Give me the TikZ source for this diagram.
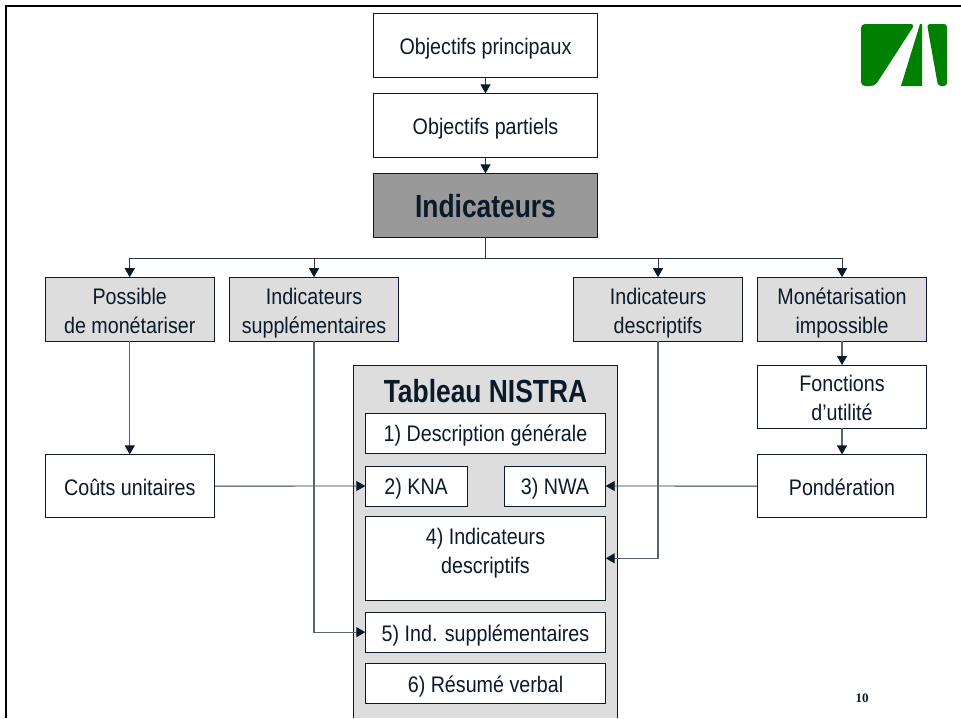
\documentclass[tikz,border=0pt]{standalone}
\usepackage{fontspec}
\setmainfont[FakeStretch=0.875]{Liberation Sans}
\newfontfamily\headfont[FakeStretch=0.825]{Liberation Sans}
\newfontfamily\pagefont{Liberation Serif}
\usetikzlibrary{arrows.meta}
\definecolor{ink}{HTML}{0B1A2B}
\definecolor{wire}{HTML}{2A3646}
\definecolor{softwire}{HTML}{5A6470}
\definecolor{panel}{HTML}{DDDDDD}
\definecolor{midgrey}{HTML}{999999}
\definecolor{logogreen}{HTML}{008000}
% uniform line strut: height 17, depth 5.5
\newcommand{\st}{\rule[-5.5pt]{0pt}{22.5pt}}
% #1 fill style, #2 name, #3 #4 x range, #5 #6 y range, #7 label style, #8 text
\newcommand{\bx}[8][whitebox]{\node[#1,minimum width=#4-#3,minimum height=#6-#5,label={[#7]center:#8}] (#2) at ({(#3+#4)/2},{(#5+#6)/2}) {};}
\tikzset{
  x=1pt,y=-1pt,
  basebox/.style={draw=ink,line width=0.9pt,inner sep=0pt,outer sep=0pt},
  boxtext/.style={inner sep=0pt,align=center,text=ink,font=\fontsize{22.5}{29}\selectfont},
  oneline/.style={boxtext,yshift=-3.2pt},
  twoline/.style={boxtext,yshift=-3.8pt},
  boldtext/.style={inner sep=0pt,text=ink,font=\headfont\fontsize{32}{34}\selectfont\bfseries},
  whitebox/.style={basebox,fill=white},
  greybox/.style={basebox,fill=panel},
  wirearrow/.style={draw=wire,line width=0.9pt,-{Triangle[length=9pt,width=10pt,color=ink,fill=ink]}},
  softarrow/.style={draw=softwire,line width=1.2pt,-{Triangle[length=9pt,width=10pt,color=ink,fill=ink]}},
  wireplain/.style={draw=wire,line width=0.9pt},
}
\begin{document}
\begin{tikzpicture}
\useasboundingbox (0,0) rectangle (961,718);
\fill[white] (0,0) rectangle (961,718);
\draw[black,line width=2.2pt] (6,718) -- (6,6) -- (961,6);
% logo
\fill[logogreen,rounded corners=4pt] (861,24) -- (915,24) -- (875,86) -- (861,86) -- cycle;
\fill[logogreen] (920,24) -- (922,24) -- (922,86) -- (901,86) -- cycle;
\fill[logogreen,rounded corners=3pt] (927,24) -- (947,24) -- (947,86) -- (938,86) -- cycle;
% top column
\bx{obp}{373.3}{597.7}{13.4}{77.4}{oneline}{\st Objectifs principaux}
\bx{obq}{373.3}{597.7}{93.4}{157.4}{oneline}{\st Objectifs partiels}
\bx[basebox,fill=midgrey]{ind}{373.3}{597.7}{173.4}{237.4}{boldtext,yshift=-1pt}{Indicateurs}
% second row
\bx[greybox]{pos}{45}{214.5}{277.2}{341}{twoline}{\st Possible\\\st de monétariser}
\bx[greybox]{sup}{229.3}{398.7}{277.2}{341}{twoline}{\st Indicateurs\\\st supplémentaires}
\bx[greybox]{des}{573.3}{742.7}{277.2}{341}{twoline}{\st Indicateurs\\\st descriptifs}
\bx[greybox]{mon}{757.3}{926.7}{277.2}{341}{twoline}{\st Monétarisation\\\st impossible}
% side boxes
\bx{fon}{757.3}{926.7}{365}{428.4}{twoline}{\st Fonctions\\\st d’utilité}
\bx{pon}{757.3}{926.7}{454.4}{517.8}{oneline}{\st Pondération}
\bx{cou}{45}{214.5}{454.4}{517.8}{oneline}{\st Coûts unitaires}
% table panel
\fill[panel] (353.3,365) rectangle (617.5,718);
\draw[ink,line width=0.9pt] (353.3,718) -- (353.3,365) -- (617.5,365) -- (617.5,718);
\node[boldtext,anchor=base] (tab) at (485.5,402.3) {Tableau NISTRA};
\bx{t1}{365.3}{605.7}{413}{453}{oneline}{\st 1) Description générale}
\bx{t2}{365.3}{467}{466}{506}{oneline}{\st 2) KNA}
\bx{t3}{504.3}{605.7}{466}{506}{oneline}{\st 3) NWA}
\bx{t4}{365.3}{605.7}{516.3}{600.3}{boxtext,yshift=4.8pt}{\st 4) Indicateurs\\\st descriptifs}
\bx{t5}{365.3}{605.7}{612.3}{652}{oneline}{\st 5) Ind. supplémentaires}
\bx{t6}{365.3}{605.7}{663.3}{703}{oneline}{\st 6) Résumé verbal}
\node[inner sep=0pt,text=ink,font=\pagefont\fontsize{13}{15}\selectfont\bfseries] (pg) at (862,698) {10};
% connectors
\draw[wirearrow] (obp) -- (obq);
\draw[wirearrow] (obq) -- (ind);
\coordinate (bus) at (485.5,258);
\draw[wireplain] (ind) -- (bus);
\draw[wirearrow] (bus) -| (pos);
\draw[wirearrow] (bus) -| (sup);
\draw[wirearrow] (bus) -| (des);
\draw[wirearrow] (bus) -| (mon);
\draw[softarrow] (mon) -- (fon);
\draw[softarrow] (fon) -- (pon);
\draw[softarrow] (pos) -- (cou);
\draw[wirearrow] (cou) -- (t2);
\draw[wirearrow] (pon) -- (t3);
\draw[softarrow] (des.south) |- (t4.east);
\draw[softarrow] (sup.south) |- (t5.west);
\end{tikzpicture}
\end{document}
